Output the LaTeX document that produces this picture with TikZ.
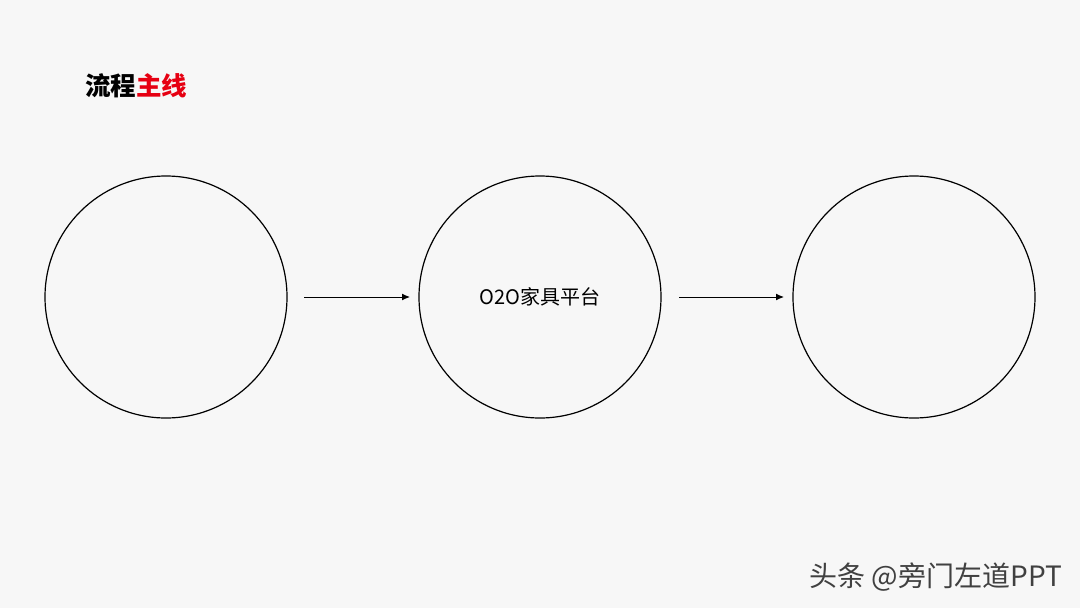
\documentclass[tikz,border=0pt]{standalone}
\usepackage{fontspec}
\usetikzlibrary{arrows.meta}
\newfontfamily\cjk{Noto Sans CJK SC}
\definecolor{bg}{HTML}{F7F7F7}
\definecolor{tred}{HTML}{E60012}
\begin{document}
\begin{tikzpicture}[x=1pt,y=-1pt,
  ring/.style={circle,draw=black,line width=1.2pt,minimum size=242pt,inner sep=0pt},
  link/.style={-{Latex[length=8pt,width=7pt]},line width=1pt}]
\fill[bg] (0,0) rectangle (1080,608);
\useasboundingbox (0,0) rectangle (1080,608);
\node[anchor=west,inner sep=0pt,font=\cjk\bfseries\fontsize{25.5}{28}\selectfont] (title) at (85,86) {流程\textcolor{tred}{主线}};
\node[ring,font=\cjk\fontsize{20}{22}\selectfont] (c2) at (540,297) {O2O家具平台};
\node[ring] (c1) at (166,297) {};
\node[ring] (c3) at (914,297) {};
\coordinate (a1s) at (304,297); \coordinate (a1e) at (410,297);
\coordinate (a2s) at (679,297); \coordinate (a2e) at (784,297);
\draw[link] (a1s) -- (a1e);
\draw[link] (a2s) -- (a2e);
\node[anchor=east,inner sep=0pt,text=black!75,font=\cjk\fontsize{28}{30}\selectfont] (wm) at (1062,577) {头条 @旁门左道PPT};
\end{tikzpicture}
\end{document}
